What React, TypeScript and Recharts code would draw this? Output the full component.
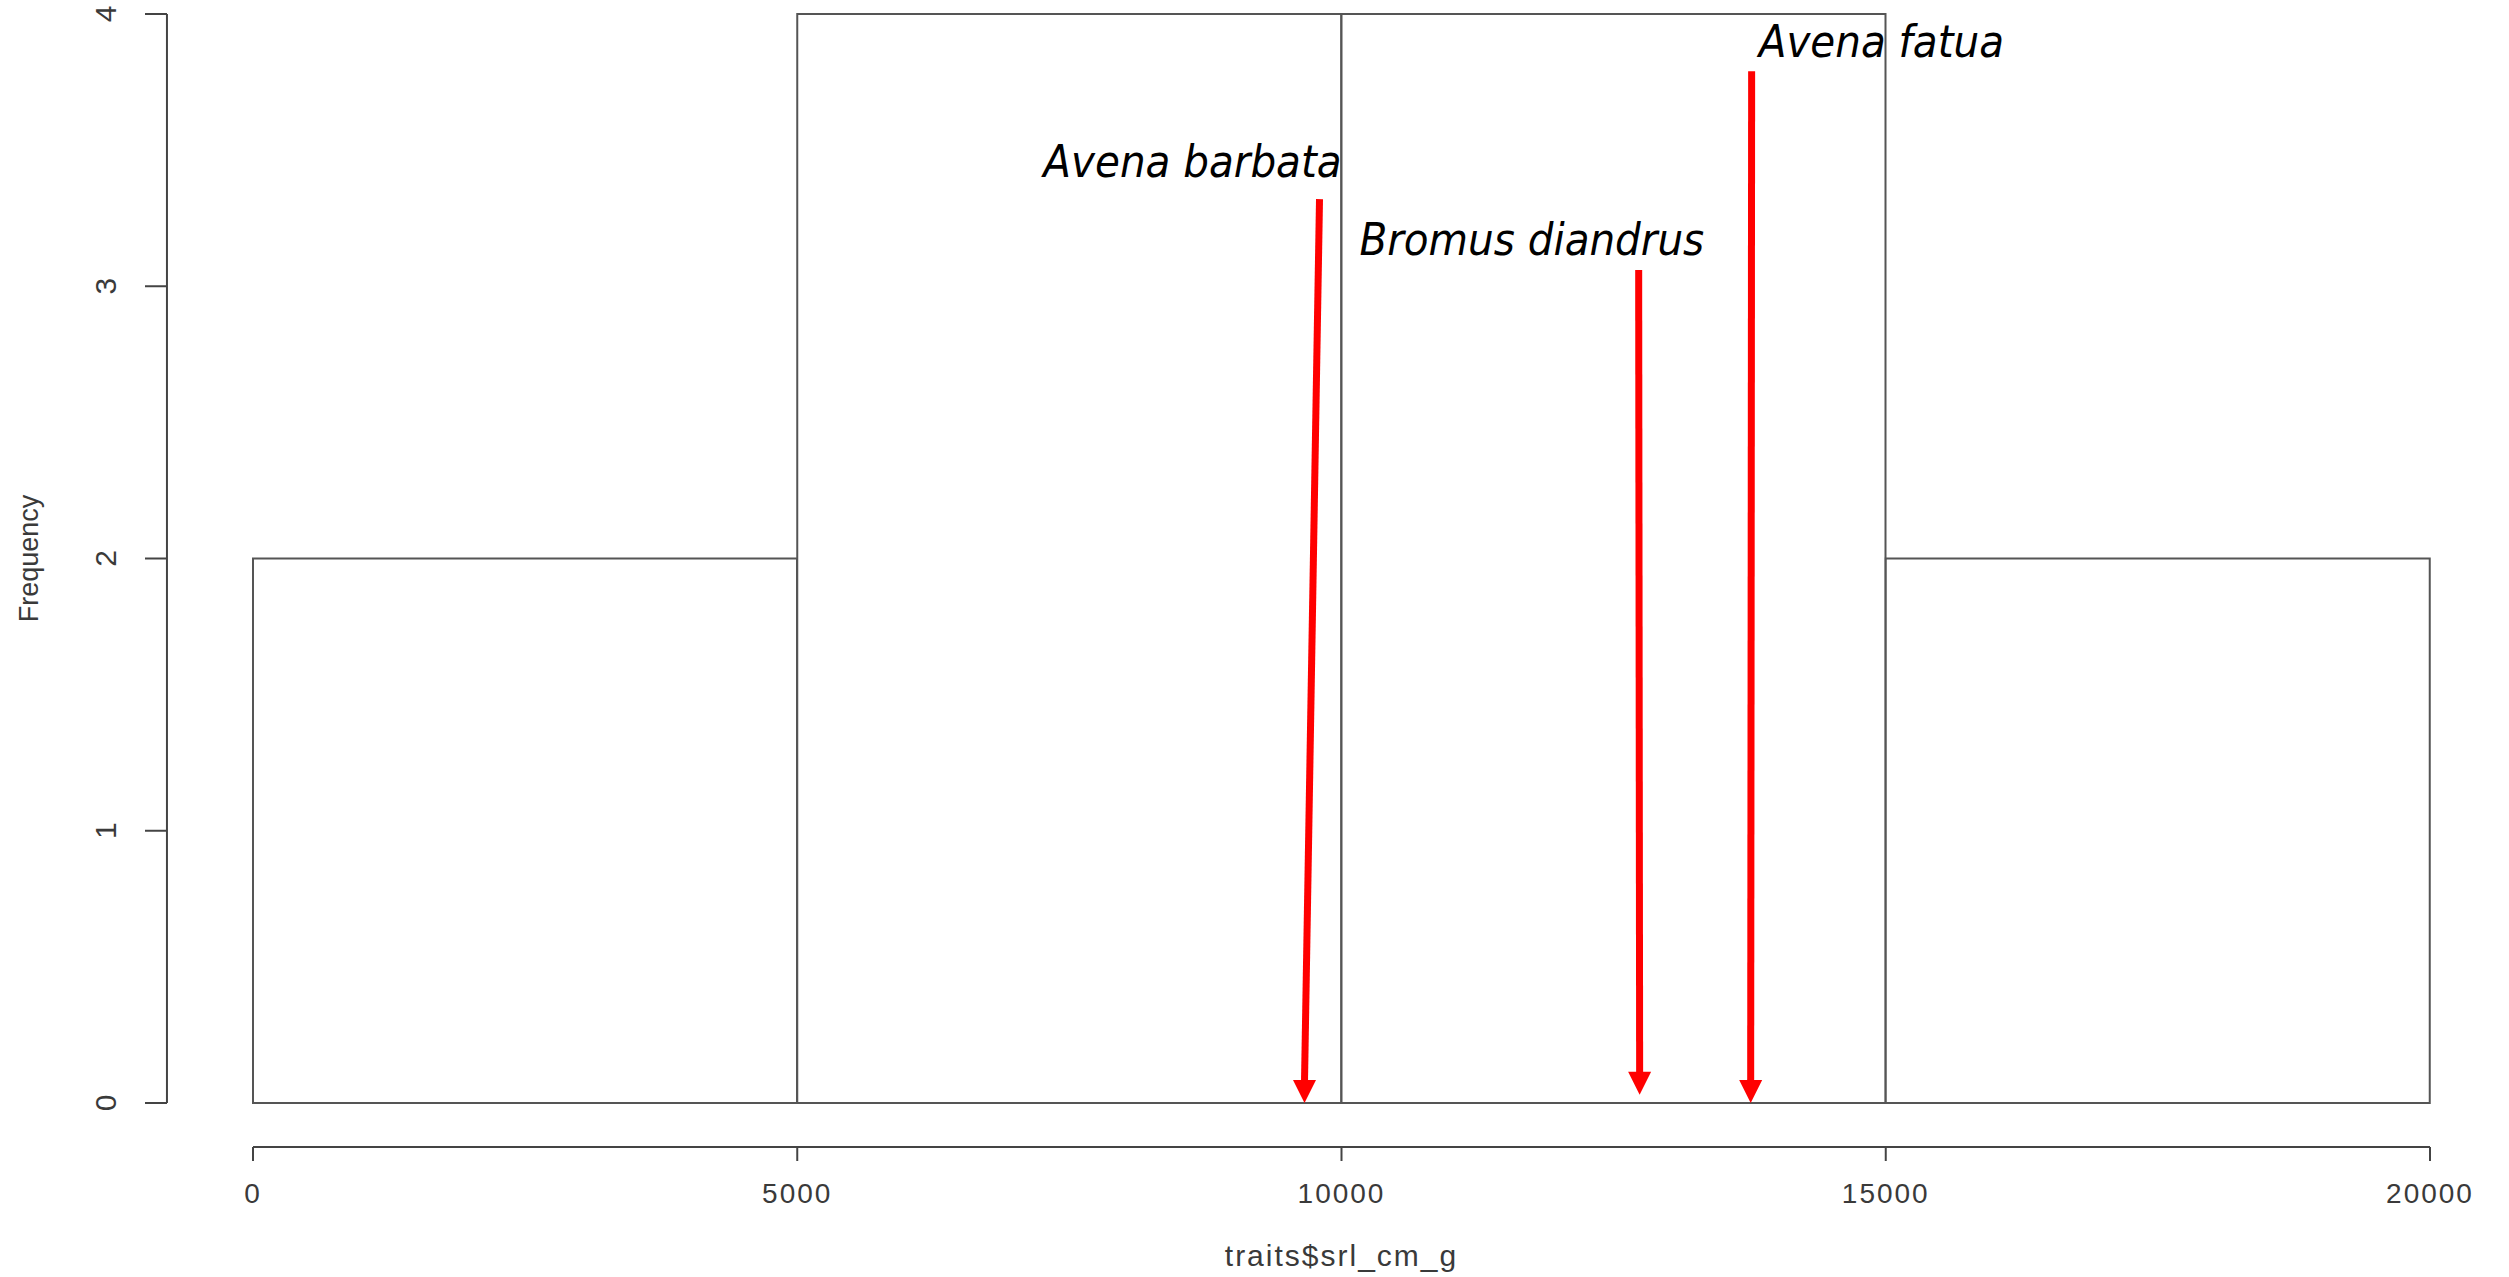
import { ComposedChart, Bar, XAxis, YAxis, ReferenceLine, ReferenceDot } from 'recharts'

// histogram bins (R hist of traits$srl_cm_g)
const binMids = [2500, 7500, 12500, 17500]
const binCounts = [2, 4, 4, 2]
const xTicks = [0, 5000, 10000, 15000, 20000]
const yTicks = [0, 1, 2, 3, 4]

// species arrows: top end and tip, in data units
const species = ['Avena barbata', 'Bromus diandrus', 'Avena fatua']
const arrowTopX = [9798, 12730, 13768]
const arrowTopY = [3.32, 3.06, 3.79]
const arrowTipX = [9660, 12739, 13759]
const arrowTipY = [0, 0.03, 0]
const labelX = [7261, 10165, 13833]
const labelY = [3.40, 3.115, 3.842]

const histData = binMids.map((m, i) => ({ mid: m, count: binCounts[i] }))

const W = 2509
const H = 1277
const AXIS_COLOR = '#444'
const TEXT_COLOR = '#3a3a3a'
const X_OFFSET = 44 // R draws axes detached from the plot
const Y_OFFSET = 86

function XTick(props: any) {
  const { x, y, payload } = props
  const ay = y + X_OFFSET
  return (
    <g>
      <line x1={x} x2={x} y1={ay} y2={ay + 14} stroke={AXIS_COLOR} strokeWidth={2} />
      <text x={x} y={ay + 56} textAnchor="middle" fontSize={28} letterSpacing={2}
        fontFamily="'Liberation Sans', Arial, sans-serif" fill={TEXT_COLOR}>
        {payload.value}
      </text>
    </g>
  )
}

function YTick(props: any) {
  const { x, y, payload } = props
  const ax = x - Y_OFFSET
  return (
    <g>
      <line x1={ax - 22} x2={ax} y1={y} y2={y} stroke={AXIS_COLOR} strokeWidth={2} />
      <text x={ax - 62} y={y} textAnchor="middle" dy="0.36em" transform={`rotate(-90, ${ax - 62}, ${y})`}
        fontSize={30} fontFamily="'Liberation Sans', Arial, sans-serif" fill={TEXT_COLOR}>
        {payload.value}
      </text>
    </g>
  )
}

function Arrow(props: any) {
  const { x1, y1, x2, y2 } = props
  const top = y1 < y2 ? { x: x1, y: y1 } : { x: x2, y: y2 }
  const tip = y1 < y2 ? { x: x2, y: y2 } : { x: x1, y: y1 }
  const head = 23
  const half = 11.5
  return (
    <g>
      <line x1={top.x} y1={top.y} x2={tip.x} y2={tip.y - head + 2} stroke="#ff0000" strokeWidth={7} />
      <polygon points={`${tip.x},${tip.y} ${tip.x - half},${tip.y - head} ${tip.x + half},${tip.y - head}`} fill="#ff0000" />
    </g>
  )
}

function SpeciesLabel(name: string) {
  return (props: any) => (
    <text x={props.cx} y={props.cy} fontSize={45} fontStyle="italic"
      fontFamily="'DejaVu Sans Condensed', 'DejaVu Sans', sans-serif" fill="#000">
      {name}
    </text>
  )
}

export default function App() {
  return (
    <div style={{ position: 'absolute', left: 0, top: 0, width: W, height: H, background: '#fff' }}>
      <ComposedChart width={W} height={H} data={histData}
        margin={{ top: 14, right: 79, bottom: 0, left: 0 }}
        barCategoryGap={0} barGap={0}>
        <XAxis dataKey="mid" type="number" domain={[0, 20000]} ticks={xTicks} interval={0}
          height={174} axisLine={false} tickLine={false} tickSize={0} tickMargin={0}
          tick={<XTick />}
          label={{ value: 'traits$srl_cm_g', position: 'insideBottom', offset: 11, fontSize: 30, letterSpacing: 2,
            fill: TEXT_COLOR, fontFamily: "'Liberation Sans', Arial, sans-serif" }} />
        <YAxis type="number" domain={[0, 4]} ticks={yTicks} interval={0} width={253}
          axisLine={false} tickLine={false} tickSize={0} tickMargin={0}
          tick={<YTick />}
          label={{ value: 'Frequency', angle: -90, position: 'insideLeft', offset: 28, fontSize: 27,
            fill: TEXT_COLOR, fontFamily: "'Liberation Sans', Arial, sans-serif", style: { textAnchor: 'middle' } }} />
        <Bar dataKey="count" fill="#fff" stroke="#555" strokeWidth={2} isAnimationActive={false} />
        {/* detached axis lines */}
        <ReferenceLine segment={[{ x: 0, y: -X_OFFSET / 272.25 }, { x: 20000, y: -X_OFFSET / 272.25 }]}
          ifOverflow="visible" stroke={AXIS_COLOR} strokeWidth={2} />
        <ReferenceLine segment={[{ x: -Y_OFFSET / 0.1088, y: 0 }, { x: -Y_OFFSET / 0.1088, y: 4 }]}
          ifOverflow="visible" stroke={AXIS_COLOR} strokeWidth={2} />
        {species.map((s, i) => (
          <ReferenceLine key={s} ifOverflow="visible"
            segment={[{ x: arrowTopX[i], y: arrowTopY[i] }, { x: arrowTipX[i], y: arrowTipY[i] }]}
            shape={<Arrow />} />
        ))}
        {species.map((s, i) => (
          <ReferenceDot key={s + '-label'} x={labelX[i]} y={labelY[i]} r={1} ifOverflow="visible"
            shape={SpeciesLabel(s)} />
        ))}
      </ComposedChart>
    </div>
  )
}
